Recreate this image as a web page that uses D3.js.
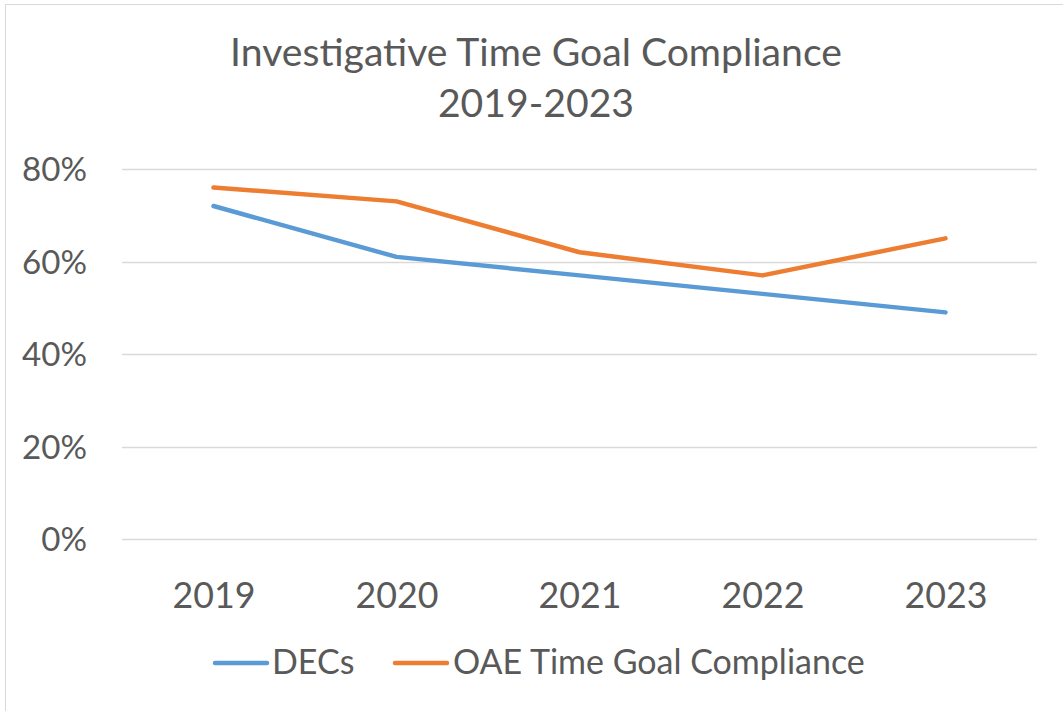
<!DOCTYPE html>
<html><head><meta charset="utf-8">
<script src="https://cdn.jsdelivr.net/npm/d3@7"></script>
<style>body{margin:0;background:#fff}svg{display:block}</style>
</head><body>
<svg id="c" width="1063" height="711"></svg>
<script>
const categories = ["2019","2020","2021","2022","2023"];
const decs = [72, 61, 57, 53, 49];
const oae = [76, 73, 62, 57, 65];
const yTicks = [0, 20, 40, 60, 80];
const seriesNames = ["DECs", "OAE Time Goal Compliance"];
const colors = ["#5B9BD5", "#ED7D31"];
const titleLines = ["Investigative Time Goal Compliance", "2019-2023"];

(function(){
const svg = d3.select("#c");
const FONT = "Lato, 'Open Sans', sans-serif";
const txt = "#595959";

function fit(sel, w) {
  const fs = parseFloat(sel.attr("font-size"));
  const len = sel.node().getComputedTextLength();
  sel.attr("font-size", fs * w / len);
}

svg.append("rect").attr("x",5.5).attr("y",4.5).attr("width",1100).attr("height",760)
  .attr("fill","#fff").attr("stroke","#D9D9D9").attr("stroke-width",1);

const pLeft = 122, pRight = 1037, pTop = 169, pBottom = 539;
const x = d3.scalePoint().domain(categories).range([pLeft, pRight]).padding(0.5);
const y = d3.scaleLinear().domain([0, 80]).range([pBottom, pTop]);

const t1 = svg.append("text").attr("x",536).attr("y",66).attr("text-anchor","middle")
  .attr("font-family",FONT).attr("font-size",36).attr("fill",txt).text(titleLines[0]);
fit(t1, 612);
svg.append("text").attr("x",536).attr("y",117).attr("text-anchor","middle")
  .attr("font-family",FONT).attr("font-size",t1.attr("font-size")).attr("fill",txt).text(titleLines[1]);

svg.append("g").selectAll("line").data(yTicks).join("line")
  .attr("x1",pLeft).attr("x2",pRight).attr("y1",d=>Math.round(y(d))+0.5).attr("y2",d=>Math.round(y(d))+0.5)
  .attr("stroke","#D9D9D9").attr("stroke-width",1.5);

const yAxis = svg.append("g").attr("transform",`translate(${pLeft},0)`)
  .call(d3.axisLeft(y).tickValues(yTicks).tickFormat(d=>d+"%").tickSize(0).tickPadding(35));
yAxis.select(".domain").remove();
yAxis.selectAll("text").attr("font-family",FONT).attr("font-size",32).attr("fill",txt).attr("dy","0.35em");
const y80 = yAxis.selectAll("text").filter(d=>d===80);
fit(y80, 65);
yAxis.selectAll("text").attr("font-size", y80.attr("font-size"));

const xAxis = svg.append("g").attr("transform",`translate(0,${pBottom})`)
  .call(d3.axisBottom(x).tickSize(0).tickPadding(40));
xAxis.select(".domain").remove();
xAxis.selectAll("text").attr("font-family",FONT).attr("font-size",36).attr("fill",txt);
const x19 = xAxis.selectAll("text").filter(d=>d==="2019");
fit(x19, 83);
xAxis.selectAll("text").attr("font-size", x19.attr("font-size")).attr("dy","0").attr("y", 69);

const line = d3.line().x((d,i)=>x(categories[i])).y(d=>y(d));
[decs, oae].forEach((s,i)=>{
  svg.append("path").attr("d", line(s)).attr("fill","none").attr("stroke",colors[i])
    .attr("stroke-width",4.5).attr("stroke-linecap","round").attr("stroke-linejoin","round");
});

const legY = 663;
const legItems = [{x1:215,x2:267,tx:272},{x1:395,x2:447,tx:453}];
legItems.forEach((L,i)=>{
  svg.append("line").attr("x1",L.x1).attr("x2",L.x2).attr("y1",legY).attr("y2",legY)
    .attr("stroke",colors[i]).attr("stroke-width",4.5).attr("stroke-linecap","round");
  L.t = svg.append("text").attr("x",L.tx).attr("y",legY+11).attr("font-family",FONT)
    .attr("font-size",30).attr("fill",txt).text(seriesNames[i]);
});
fit(legItems[1].t, 412);
legItems[0].t.attr("font-size", legItems[1].t.attr("font-size"));
})();
</script>
</body></html>
